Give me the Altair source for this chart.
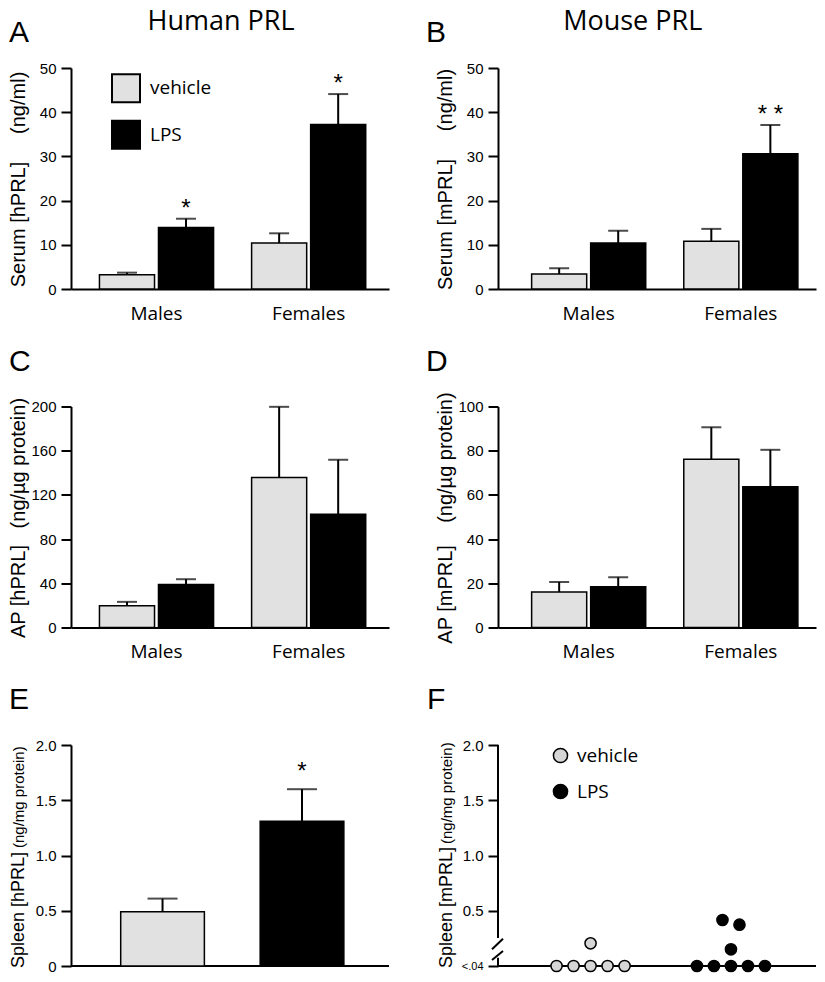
import altair as alt
import pandas as pd

# ---------------- data ----------------
GROUPS = ["Males", "Females"]
TREATS = ["vehicle", "LPS"]

# order of values: Males-vehicle, Males-LPS, Females-vehicle, Females-LPS
a_mean = [3.2, 13.9, 10.4, 37.2]     # serum hPRL (ng/ml)
a_top = [3.7, 15.9, 12.6, 44.1]      # mean + SEM
a_star = ["", "*", "", "*"]

b_mean = [3.4, 10.4, 10.8, 30.6]     # serum mPRL (ng/ml)
b_top = [4.7, 13.2, 13.6, 37.1]
b_star = ["", "", "", "* *"]

c_mean = [19.6, 38.9, 135.8, 102.4]  # AP hPRL (ng/ug protein)
c_top = [23.2, 43.7, 199.7, 151.8]
c_star = ["", "", "", ""]

d_mean = [16.1, 18.4, 76.1, 63.7]    # AP mPRL (ng/ug protein)
d_top = [20.6, 22.7, 90.6, 80.4]
d_star = ["", "", "", ""]

e_mean = [0.49, 1.31]                # spleen hPRL (ng/mg protein)
e_top = [0.61, 1.60]
e_star = ["", "*"]

# spleen mPRL individual animals (0 = below detection, "<.04")
f_treat = ["vehicle"] * 6 + ["LPS"] * 8
f_slot = [-2, -1, 0, 1, 2, 0, -2, -1, 0, 1, 2, -0.5, 0.5, 0]
f_value = [0, 0, 0, 0, 0, 0.205, 0, 0, 0, 0, 0, 0.416, 0.374, 0.151]

# broken y axis of panel F (axis pieces and break marks, in data units)
f_axis_y = [2.0, 0.075]
f_axis_y2 = [0.253, 0.0]
f_break_y = [0.151, 0.054]
f_break_y2 = [0.247, 0.136]

VEH_FILL = "#e1e1e1"
DOT_FILL = "#d6d6d6"
W, H = 318, 221
NB = "\u00a0"
TICK_FONT = "Liberation Sans"
TEXT_FONT = "Open Sans"


def y_axis(values, label_expr=None, label_size=15, domain=True):
    kw = dict(title=None, values=values, grid=False, domain=domain, domainWidth=2,
              domainColor="black", tickWidth=2, tickColor="black", tickSize=10,
              labelFont=TICK_FONT, labelFontSize=label_size, labelColor="black",
              labelPadding=5)
    if label_expr:
        kw["labelExpr"] = label_expr
    return alt.Axis(**kw)


def text_layer(text, x, y, size, font=TICK_FONT, align="left", angle=0):
    return alt.Chart(pd.DataFrame({"t": [text]})).mark_text(
        font=font, fontSize=size, align=align, baseline="alphabetic", angle=angle, color="black"
    ).encode(text="t:N", x=alt.value(x), y=alt.value(y))


def baseline_rule(scale, axis):
    # x axis line (the E and F panels show only the axis line)
    return alt.Chart(pd.DataFrame({"z": [0]})).mark_rule(color="black", strokeWidth=2).encode(
        x=alt.value(0), x2=alt.value(W), y=alt.Y("z:Q", scale=scale, axis=axis))


def fill_scale(veh):
    return alt.Scale(domain=TREATS, range=[veh, "black"])


def bar_panel(mean, top, star, ymax, yvals, letter, letter_x, letter_y,
              ytitle, ytitle_x, align, col_title=None, col_title_x=None, legend=None):
    df = pd.DataFrame({
        "group": [g for g in GROUPS for _ in TREATS],
        "treatment": TREATS * len(GROUPS),
        "mean": mean, "top": top, "star": star,
    })
    x = alt.X("group:N", sort=GROUPS,
              scale=alt.Scale(domain=GROUPS, paddingInner=0.25, paddingOuter=0.17, align=align),
              axis=alt.Axis(title=None, labelAngle=0, ticks=False, domainWidth=2,
                            domainColor="black", labelFont=TEXT_FONT, labelFontSize=19,
                            labelColor="black", labelPadding=15))
    xo = alt.XOffset("treatment:N", sort=TREATS,
                     scale=alt.Scale(domain=TREATS, paddingInner=0.067, paddingOuter=0))
    ysc = alt.Scale(domain=[0, ymax], nice=False)
    yax = y_axis(yvals)
    base = alt.Chart(df)
    err = base.mark_rule(color="black", strokeWidth=2).encode(
        x=x, xOffset=xo, y=alt.Y("mean:Q", scale=ysc, axis=yax), y2=alt.Y2("top:Q"))
    cap = base.mark_tick(color="black", thickness=2, size=20, orient="horizontal").encode(
        x=x, xOffset=xo, y=alt.Y("top:Q", scale=ysc, axis=yax))
    bars = base.mark_bar(stroke="black", strokeWidth=1.5).encode(
        x=x, xOffset=xo, y=alt.Y("mean:Q", scale=ysc, axis=yax),
        fill=alt.Fill("treatment:N", scale=fill_scale(VEH_FILL), legend=legend))
    stars = base.mark_text(font=TICK_FONT, fontSize=24, baseline="alphabetic", dy=-3,
                           color="black").encode(
        x=x, xOffset=xo, y=alt.Y("top:Q", scale=ysc, axis=yax), text="star:N")
    layers = [err, cap, bars, stars,
              text_layer(letter, letter_x, letter_y, 30),
              text_layer(ytitle, ytitle_x, H / 2 + 1, 20, align="center", angle=270)]
    if col_title:
        layers.append(text_layer(col_title, col_title_x, -37.7, 27, font=TEXT_FONT, align="center"))
    return alt.layer(*layers).properties(width=W, height=H)


legend_a = alt.Legend(orient="none", legendX=40, legendY=5.3, title=None, symbolType="square",
                      symbolSize=784, symbolStrokeColor="black", symbolStrokeWidth=2,
                      labelFont=TEXT_FONT, labelFontSize=19, labelColor="black",
                      labelOffset=9, rowPadding=10.5, padding=0)

panel_a = bar_panel(a_mean, a_top, a_star, 50, [0, 10, 20, 30, 40, 50], "A", -62, -26,
                    "Serum [hPRL]" + NB * 5 + "(ng/ml)", -46, 0.55, "Human PRL", 150, legend_a)
panel_b = bar_panel(b_mean, b_top, b_star, 50, [0, 10, 20, 30, 40, 50], "B", -72, -26,
                    "Serum [mPRL]" + NB * 5 + "(ng/ml)", -46, 0.65, "Mouse PRL", 134.7)
panel_c = bar_panel(c_mean, c_top, c_star, 200, [0, 40, 80, 120, 160, 200], "C", -62, -36,
                    "AP [hPRL]" + NB * 3 + "(ng/µg protein)", -46, 0.55)
panel_d = bar_panel(d_mean, d_top, d_star, 100, [0, 20, 40, 60, 80, 100], "D", -72, -36,
                    "AP [mPRL]" + NB * 4 + "(ng/µg protein)", -46, 0.65)

# ---------------- panel E ----------------
edf = pd.DataFrame({"treatment": TREATS, "mean": e_mean, "top": e_top, "star": e_star})
ex = alt.X("treatment:N", sort=TREATS,
           scale=alt.Scale(domain=TREATS, paddingInner=0.40, paddingOuter=0.34, align=0.524),
           axis=None)
esc = alt.Scale(domain=[0, 2], nice=False)
e_expr = "datum.value == 0 ? '0' : format(datum.value, '.1f')"
eax = y_axis([0, 0.5, 1, 1.5, 2], e_expr)
ebase = alt.Chart(edf)
panel_e = alt.layer(
    ebase.mark_rule(color="black", strokeWidth=2).encode(
        x=ex, y=alt.Y("mean:Q", scale=esc, axis=eax), y2=alt.Y2("top:Q")),
    ebase.mark_tick(color="black", thickness=2, size=30, orient="horizontal").encode(
        x=ex, y=alt.Y("top:Q", scale=esc, axis=eax)),
    baseline_rule(esc, eax),
    ebase.mark_bar(stroke="black", strokeWidth=1.5).encode(
        x=ex, y=alt.Y("mean:Q", scale=esc, axis=eax),
        fill=alt.Fill("treatment:N", scale=fill_scale(VEH_FILL), legend=None)),
    ebase.mark_text(font=TICK_FONT, fontSize=24, baseline="alphabetic", dy=-10, color="black").encode(
        x=ex, y=alt.Y("top:Q", scale=esc, axis=eax), text="star:N"),
    text_layer("E", -62, -35.7, 30),
    text_layer("Spleen [hPRL]", -47, 223, 18, angle=270),
    text_layer("(ng/mg protein)", -47, 103, 15, angle=270),
).properties(width=W, height=H)

# ---------------- panel F ----------------
fdf = pd.DataFrame({"treatment": f_treat, "slot": f_slot, "value": f_value})
fx = alt.X("treatment:N", sort=TREATS,
           scale=alt.Scale(domain=TREATS, paddingInner=0.405, paddingOuter=0.335, align=0.54),
           axis=None)
fxo = alt.XOffset("slot:Q", scale=alt.Scale(domain=[-2.456, 2.456]))
fsc = alt.Scale(domain=[0, 2], nice=False)
f_expr = "datum.value == 0 ? '<.04' : format(datum.value, '.1f')"
fax = y_axis([0, 0.5, 1, 1.5, 2], f_expr,
             {"condition": {"test": "datum.value == 0", "value": 11}, "value": 15}, domain=False)
legend_f = alt.Legend(orient="none", legendX=53, legendY=1, title=None, symbolType="circle",
                      symbolSize=200, symbolStrokeColor="black", symbolStrokeWidth=1.5,
                      labelFont=TEXT_FONT, labelFontSize=19, labelColor="black",
                      labelOffset=7, rowPadding=15, padding=0)
seg_df = pd.DataFrame({"y": f_axis_y, "y2": f_axis_y2})
brk_df = pd.DataFrame({"y": f_break_y, "y2": f_break_y2})
panel_f = alt.layer(
    alt.Chart(seg_df).mark_rule(color="black", strokeWidth=2).encode(
        x=alt.value(0), y=alt.Y("y:Q", scale=fsc, axis=fax), y2=alt.Y2("y2:Q")),
    alt.Chart(brk_df).mark_rule(color="black", strokeWidth=2).encode(
        x=alt.value(-6), x2=alt.value(5), y=alt.Y("y:Q", scale=fsc, axis=fax), y2=alt.Y2("y2:Q")),
    baseline_rule(fsc, fax),
    alt.Chart(fdf).mark_circle(size=125, opacity=1, stroke="black", strokeWidth=1.5).encode(
        x=fx, xOffset=fxo, y=alt.Y("value:Q", scale=fsc, axis=fax),
        fill=alt.Fill("treatment:N", scale=fill_scale(DOT_FILL), legend=legend_f)),
    text_layer("F", -71, -36, 30),
    text_layer("Spleen [mPRL]", -46, 223, 18, angle=270),
    text_layer("(ng/mg protein)", -46, 99, 15, angle=270),
).properties(width=W, height=H)

chart = alt.concat(
    panel_a, panel_b, panel_c, panel_d, panel_e, panel_f,
    columns=2, spacing={"row": 117.5, "column": 109}, bounds="flush",
).resolve_scale(fill="independent").resolve_legend(fill="independent").properties(
    padding=0).configure_view(stroke=None)

chart.save("out.html", embed_options={"renderer": "svg", "actions": False})
